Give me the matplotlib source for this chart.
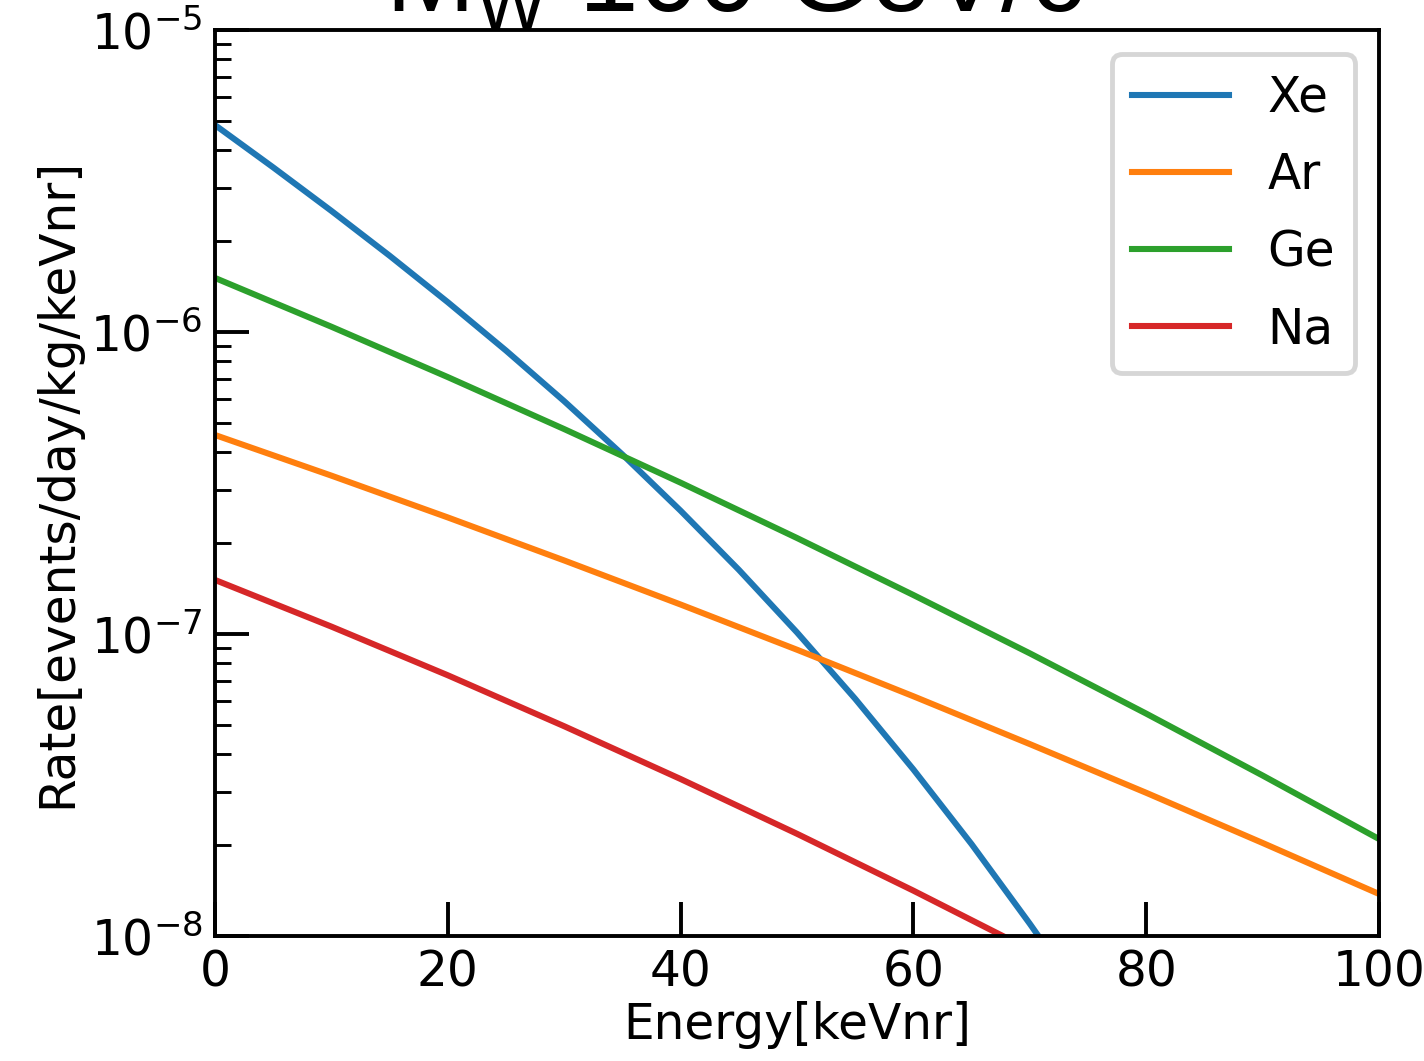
import matplotlib
matplotlib.use("Agg")
import matplotlib.pyplot as plt

# values (energy in keVnr, rate in events/day/kg/keVnr)
energy_xe = [0, 5, 10, 15, 20, 25, 30, 35, 40, 45, 50, 55, 60, 65, 70, 72]
rate_xe = [4.845e-6, 3.508e-6, 2.518e-6, 1.789e-6, 1.255e-6, 8.68e-7, 5.90e-7, 3.93e-7,
           2.56e-7, 1.632e-7, 1.012e-7, 6.10e-8, 3.56e-8, 2.014e-8, 1.098e-8, 8.53e-9]

energy_ar = [0, 10, 20, 30, 40, 50, 60, 70, 80, 90, 100]
rate_ar = [4.56e-7, 3.345e-7, 2.432e-7, 1.752e-7, 1.252e-7, 8.87e-8, 6.22e-8, 4.32e-8,
           2.98e-8, 2.033e-8, 1.378e-8]

energy_ge = [0, 10, 20, 30, 40, 50, 60, 70, 80, 90, 100]
rate_ge = [1.510e-6, 1.041e-6, 7.09e-7, 4.77e-7, 3.17e-7, 2.079e-7, 1.346e-7, 8.63e-8,
           5.45e-8, 3.40e-8, 2.095e-8]

energy_na = [0, 10, 20, 30, 40, 50, 60, 70]
rate_na = [1.510e-7, 1.058e-7, 7.30e-8, 4.95e-8, 3.31e-8, 2.18e-8, 1.413e-8, 9.01e-9]

DPI = 350
fig = plt.figure(figsize=(1424 / DPI, 1061 / DPI), dpi=DPI)
ax = fig.add_axes([215 / 1424, 125 / 1061, (1379 - 215) / 1424, (936 - 30) / 1061])

lw = 1.25
ax.plot(energy_xe, rate_xe, lw=lw, label="Xe")
ax.plot(energy_ar, rate_ar, lw=lw, label="Ar")
ax.plot(energy_ge, rate_ge, lw=lw, label="Ge")
ax.plot(energy_na, rate_na, lw=lw, label="Na")

ax.set_yscale("log")
ax.set_xlim(0, 100)
ax.set_ylim(1e-8, 1e-5)
ax.tick_params(which="both", direction="in")
ax.tick_params(which="major", length=7, pad=2.5)
ax.tick_params(which="minor", length=3.2)

ax.set_xlabel("Energy[keVnr]", labelpad=1)
ax.set_ylabel("Rate[events/day/kg/keVnr]", labelpad=2)
ax.legend(loc="upper right", labelspacing=0.6)

# title sits mostly above the top edge of the figure, as in the original
fig.text(385 / 1424, 1 - 12 / 1061, r"M$_{\mathdefault{W}}$ 100 GeV/c$^{\mathdefault{2}}$",
         ha="left", va="baseline", fontsize=22, family="Liberation Sans")

fig.savefig("out.png", dpi=DPI)
